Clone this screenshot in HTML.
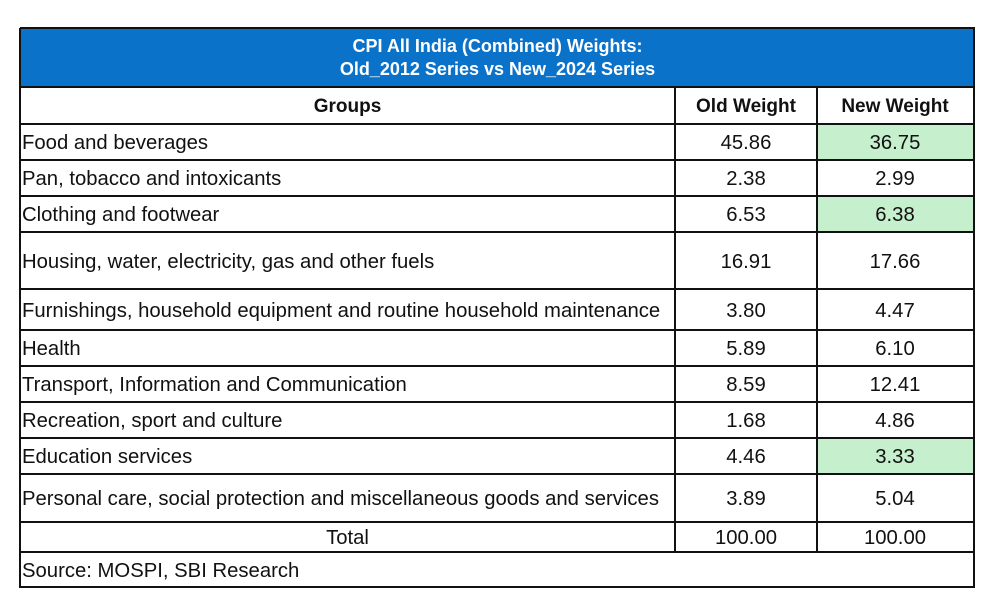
<!DOCTYPE html>
<html><head><meta charset="utf-8"><style>
body{margin:0;width:988px;height:613px;background:#fff;position:relative;font-family:"Liberation Sans",sans-serif;overflow:hidden}
.c{position:absolute;box-sizing:border-box;display:flex;align-items:center;font-size:20.3px;color:#111;white-space:nowrap;padding-top:3px}
.l{justify-content:flex-start;padding-left:2px}
.m{justify-content:center}
.h{position:absolute;height:2px;background:#111;left:20px;width:955px}
.v{position:absolute;width:2px;background:#111}
</style></head><body>
<div>
<div style="position:absolute;left:20px;top:28px;width:955px;height:59px;background:#0b72c9;color:#fff;font-weight:bold;font-size:18px;text-align:center;line-height:23px;padding-top:7px;box-sizing:border-box">CPI All India (Combined) Weights:<br>Old_2012 Series vs New_2024 Series</div>
<div id="rows"></div>
</div>
<script>
const groups=["Food and beverages","Pan, tobacco and intoxicants","Clothing and footwear","Housing, water, electricity, gas and other fuels","Furnishings, household equipment and routine household maintenance","Health","Transport, Information and Communication","Recreation, sport and culture","Education services","Personal care, social protection and miscellaneous goods and services"];
const oldW=["45.86","2.38","6.53","16.91","3.80","5.89","8.59","1.68","4.46","3.89"];
const newW=["36.75","2.99","6.38","17.66","4.47","6.10","12.41","4.86","3.33","5.04"];
const hl=[true,false,true,false,false,false,false,false,true,false];
const lines=[124,160,196,232,289,330,366,402,438,474,522,552];
const R=document.getElementById('rows');
function cell(x,y,w,h,t,cls,name,bg,bold){const d=document.createElement('div');d.className='c '+cls;


d.style.cssText+=`left:${x}px;top:${y}px;width:${w}px;height:${h}px;`+(bg?`background:${bg};`:'')+(bold?'font-weight:bold;font-size:19px;':'');d.textContent=t;R.appendChild(d);}
cell(20,87,655,37,"Groups",'m','groups-header',null,1);
cell(675,87,142,37,"Old Weight",'m','old-weight-header',null,1);
cell(817,87,156,37,"New Weight",'m','new-weight-header',null,1);
for(let i=0;i<groups.length;i++){const y=lines[i],h=lines[i+1]-y;
cell(20,y,655,h,groups[i],'l','group-label');
cell(675,y,142,h,oldW[i],'m','old-weight-cell');
cell(817,y,156,h,newW[i],'m','new-weight-cell',hl[i]?'#c6efce':null);}
cell(20,522,655,30,"Total",'m','total-label');
cell(675,522,142,30,"100.00",'m','old-weight-total');
cell(817,522,156,30,"100.00",'m','new-weight-total');
cell(20,552,955,35,"Source: MOSPI, SBI Research",'l','source-note');
function hline(y){const d=document.createElement('div');d.className='h';d.style.top=(y-1)+'px';R.appendChild(d);}
[28,87,...lines,587].forEach(hline);
function vline(x,y1,y2){const d=document.createElement('div');d.className='v';d.style.cssText+=`left:${x-1}px;top:${y1}px;height:${y2-y1+1}px`;R.appendChild(d);}
vline(20,28,587);vline(974,28,587);vline(675,87,552);vline(817,87,552);
</script>
</body></html>
